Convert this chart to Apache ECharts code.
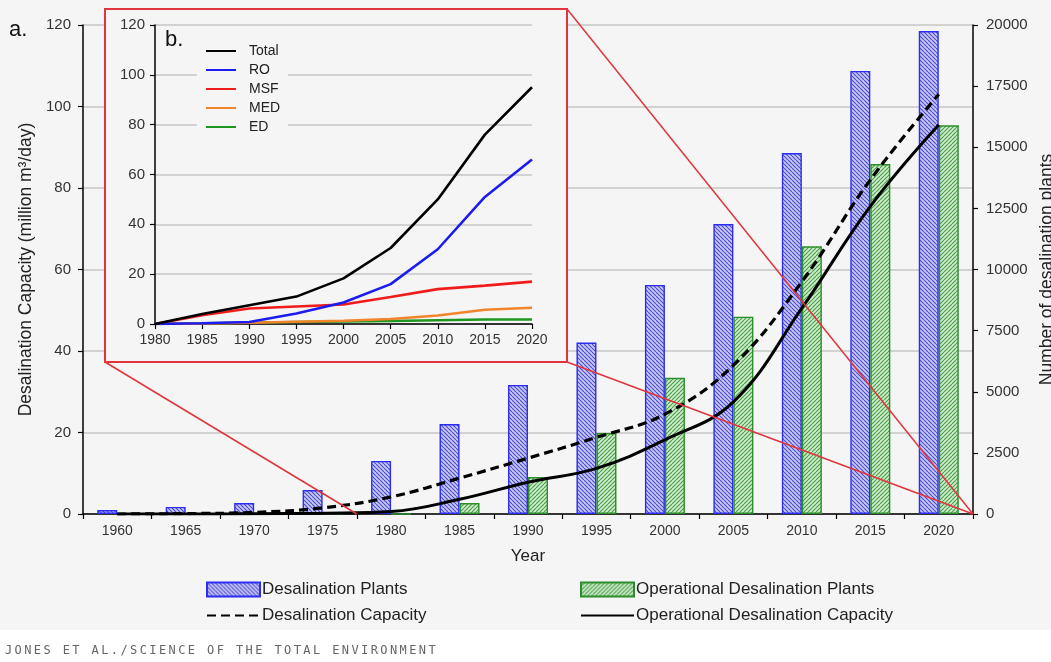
<!DOCTYPE html>
<html>
<head>
<meta charset="utf-8">
<script src="https://cdn.jsdelivr.net/npm/echarts@6/dist/echarts.min.js"></script>
<style>
  html, body { margin: 0; padding: 0; background: #ffffff; }
  #wrap { position: relative; width: 1051px; height: 662px; overflow: hidden;
          background: linear-gradient(#f5f5f5 0, #f5f5f5 630px, #ffffff 630px); }
  #main { position: absolute; left: 0; top: 0; width: 1051px; height: 662px; }
  #inset { position: absolute; left: 104px; top: 8px; width: 464px; height: 355px; }
  #credit { position: absolute; left: 5px; top: 643px; font-family: "DejaVu Sans Mono", monospace;
            font-size: 12px; letter-spacing: 2.4px; color: #666; white-space: nowrap; }
</style>
</head>
<body>
<div id="wrap">
  <div id="main"></div>
  <div id="inset"></div>
  <div id="credit">JONES ET AL./SCIENCE OF THE TOTAL ENVIRONMENT</div>
</div>
<script>
// ---- Panel a: global totals, 1960-2020 ----
const years = ['1960', '1965', '1970', '1975', '1980', '1985', '1990', '1995', '2000', '2005', '2010', '2015', '2020'];
// number of plants (right axis)
const plants            = [160, 290, 450, 980, 2170, 3680, 5280, 7010, 9370, 11860, 14760, 18120, 19750];
const operationalPlants = [0, 0, 0, 0, 0, 450, 1510, 3310, 5570, 8070, 10950, 14310, 15900];
// capacity, million m3/day (left axis)
const capacity            = [0, 0.1, 0.4, 1.5, 4.2, 8.8, 13.7, 18.8, 24.5, 36.5, 57, 82, 103];
const operationalCapacity = [0, 0, 0.05, 0.2, 0.6, 3.6, 7.8, 11.2, 18.2, 27.5, 50.5, 75.5, 95.5];

// ---- Panel b: operational capacity by technology, 1980-2020 ----
const insetYears = [1980, 1985, 1990, 1995, 2000, 2005, 2010, 2015, 2020];
const total = [0, 4, 7.5, 11, 18.3, 30.5, 50, 76, 95];
const ro    = [0, 0.3, 0.8, 4.2, 8.6, 16, 30, 51, 66];
const msf   = [0, 3.5, 6.2, 7, 7.8, 10.8, 14, 15.4, 17];
const med   = [0, 0.2, 0.5, 0.9, 1.3, 2, 3.4, 5.7, 6.5];
const ed    = [0, 0.3, 0.5, 0.8, 1, 1.2, 1.5, 1.8, 1.8];

const BG = '#f5f5f5';
const FONT = '"Liberation Sans", Arial, sans-serif';
const LINK_RED = '#e0353d';
const NO_MARK = 'rgba(0,0,0,0)';
const plain = (v) => String(v);

// diagonal hatch tile used as a bar fill
function hatch(bg, ink, dir) {
  const s = 4;
  const c = document.createElement('canvas');
  c.width = s; c.height = s;
  const g = c.getContext('2d');
  g.fillStyle = bg; g.fillRect(0, 0, s, s);
  g.strokeStyle = ink; g.lineWidth = 1.1;
  g.beginPath();
  for (const k of [-s, 0, s]) {
    if (dir === '\\') { g.moveTo(k, 0); g.lineTo(k + s, s); }
    else { g.moveTo(k, s); g.lineTo(k + s, 0); }
  }
  g.stroke();
  return { image: c, repeat: 'repeat' };
}
const bluePattern = hatch('#c8c8f2', '#4a4ad4', '\\');
const greenPattern = hatch('#cfe9cb', '#47a047', '/');

const main = echarts.init(document.getElementById('main'), null, { renderer: 'canvas' });
const labelStyle = { color: '#333', fontSize: 15, fontFamily: FONT };
const legendText = { fontSize: 17, color: '#222', padding: [0, 0, 0, -3] };

main.setOption({
  backgroundColor: 'transparent',
  animation: false,
  textStyle: { fontFamily: FONT },
  grid: { left: 83, right: 78, top: 25, bottom: 148, outerBoundsMode: 'none', containLabel: false },
  legend: [
    {
      left: 201, top: 576, orient: 'vertical', itemWidth: 53, itemHeight: 14, itemGap: 9,
      selectedMode: false, textStyle: legendText,
      data: [{ name: 'Desalination Plants', icon: 'rect' }, 'Desalination Capacity']
    },
    {
      left: 575, top: 576, orient: 'vertical', itemWidth: 53, itemHeight: 14, itemGap: 9,
      selectedMode: false, textStyle: legendText,
      data: [{ name: 'Operational Desalination Plants', icon: 'rect' }, 'Operational Desalination Capacity']
    }
  ],
  xAxis: {
    type: 'category', data: years, boundaryGap: true,
    axisLine: { lineStyle: { color: '#000', width: 1.5 } },
    axisTick: { show: true, alignWithLabel: false, length: 5, lineStyle: { color: '#000', width: 1.2 } },
    axisLabel: { color: '#333', fontSize: 14, margin: 10 },
    name: 'Year', nameLocation: 'middle', nameGap: 34,
    nameTextStyle: { fontSize: 17, color: '#222' }
  },
  yAxis: [
    {
      type: 'value', min: 0, max: 120, interval: 20, position: 'left',
      axisLine: { show: true, lineStyle: { color: '#000', width: 1.5 } },
      axisTick: { show: true, length: 5, lineStyle: { color: '#000', width: 1.2 } },
      axisLabel: Object.assign({ margin: 12, formatter: plain }, labelStyle),
      splitLine: { lineStyle: { color: '#c6c6c6', width: 1.5 } },
      name: 'Desalination Capacity (million m³/day)', nameLocation: 'middle', nameGap: 45, nameRotate: 90,
      nameTextStyle: { fontSize: 17.5, color: '#222' }
    },
    {
      type: 'value', min: 0, max: 20000, interval: 2500, position: 'right',
      axisLine: { show: true, lineStyle: { color: '#000', width: 1.5 } },
      axisTick: { show: true, length: 5, lineStyle: { color: '#000', width: 1.2 } },
      axisLabel: Object.assign({ margin: 13, formatter: plain }, labelStyle),
      splitLine: { show: false },
      name: 'Number of desalination plants', nameLocation: 'middle', nameGap: 65, nameRotate: 90,
      nameTextStyle: { fontSize: 17.5, color: '#222' }
    }
  ],
  series: [
    {
      name: 'Desalination Plants', type: 'bar', yAxisIndex: 1, data: plants,
      barWidth: 20, barGap: '0%',
      itemStyle: { color: bluePattern, borderColor: '#2c2cf2', borderWidth: 1.4 }
    },
    {
      name: 'Operational Desalination Plants', type: 'bar', yAxisIndex: 1, data: operationalPlants,
      barWidth: 20, barGap: '0%',
      itemStyle: { color: greenPattern, borderColor: '#2a8e2a', borderWidth: 1.4 }
    },
    {
      name: 'Desalination Capacity', type: 'line', yAxisIndex: 0, data: capacity,
      smooth: 0.4, symbol: 'circle', showSymbol: false, z: 5,
      itemStyle: { color: NO_MARK, borderWidth: 0 },
      lineStyle: { color: '#000', width: 3.2, type: [9, 5] }
    },
    {
      name: 'Operational Desalination Capacity', type: 'line', yAxisIndex: 0, data: operationalCapacity,
      smooth: 0.4, symbol: 'circle', showSymbol: false, z: 5,
      itemStyle: { color: NO_MARK, borderWidth: 0 },
      lineStyle: { color: '#000', width: 3 }
    }
  ]
});

// inset frame corners (page coords) and the span of panel a it magnifies
const frame = { x0: 105, y0: 9, x1: 567, y1: 362 };
const c0 = main.convertToPixel({ xAxisIndex: 0 }, years[0]);
const c1 = main.convertToPixel({ xAxisIndex: 0 }, years[1]);
const band = c1 - c0;
const spanStart = main.convertToPixel({ xAxisIndex: 0 }, '1980') - band / 2;
const spanEnd = main.convertToPixel({ xAxisIndex: 0 }, years[years.length - 1]) + band / 2;
const baseY = main.convertToPixel({ yAxisIndex: 0 }, 0);
const link = (x1, y1, x2, y2) => ({
  type: 'line', z: 100, silent: true,
  shape: { x1, y1, x2, y2 }, style: { stroke: LINK_RED, lineWidth: 1.5 }
});
main.setOption({
  graphic: [
    { type: 'text', left: 9, top: 19, z: 100, style: { text: 'a.', fontSize: 22, fill: '#111', fontFamily: FONT } },
    link(frame.x0, frame.y1, spanStart, baseY),
    link(frame.x1, frame.y0, spanEnd, baseY),
    link(frame.x1, frame.y1, spanEnd, baseY)
  ]
});

// ---- inset chart ----
const inset = echarts.init(document.getElementById('inset'), null, { renderer: 'canvas' });
const pair = (arr) => insetYears.map((y, i) => [y, arr[i]]);
const techLine = (name, arr, color) => ({
  name, type: 'line', data: pair(arr), symbol: 'circle', showSymbol: false, smooth: false,
  itemStyle: { color: NO_MARK, borderWidth: 0 }, lineStyle: { color, width: 2.6 }
});
inset.setOption({
  backgroundColor: 'transparent',
  animation: false,
  textStyle: { fontFamily: FONT },
  graphic: [
    { type: 'rect', z: -10, silent: true, shape: { x: 1, y: 1, width: 462, height: 353 },
      style: { fill: BG, stroke: LINK_RED, lineWidth: 2 } },
    { type: 'text', left: 61, top: 21, z: 100, style: { text: 'b.', fontSize: 22, fill: '#111', fontFamily: FONT } }
  ],
  grid: { left: 51, right: 36, top: 17, bottom: 39, outerBoundsMode: 'none', containLabel: false },
  legend: {
    left: 93, top: 33, orient: 'vertical', itemWidth: 30, itemHeight: 12, itemGap: 5,
    padding: [3, 8, 3, 8], backgroundColor: BG, selectedMode: false, z: 10,
    textStyle: { fontSize: 14, color: '#222', padding: [0, 0, 0, 8] },
    data: ['Total', 'RO', 'MSF', 'MED', 'ED']
  },
  xAxis: {
    type: 'value', min: 1980, max: 2020, interval: 5,
    axisLine: { lineStyle: { color: '#000', width: 1.5 } },
    axisTick: { show: true, length: 5, lineStyle: { color: '#000', width: 1.2 } },
    axisLabel: { color: '#333', fontSize: 14, margin: 9, formatter: plain },
    splitLine: { show: false }
  },
  yAxis: {
    type: 'value', min: 0, max: 120, interval: 20,
    axisLine: { show: true, lineStyle: { color: '#000', width: 1.5 } },
    axisTick: { show: true, length: 5, lineStyle: { color: '#000', width: 1.2 } },
    axisLabel: { color: '#333', fontSize: 15, margin: 10, formatter: plain },
    splitLine: { lineStyle: { color: '#c6c6c6', width: 1.5 } }
  },
  series: [
    techLine('ED', ed, '#1f961f'),
    techLine('MED', med, '#f2852b'),
    techLine('MSF', msf, '#f01c1c'),
    techLine('RO', ro, '#1c1cf0'),
    techLine('Total', total, '#000000')
  ]
});
</script>
</body>
</html>
